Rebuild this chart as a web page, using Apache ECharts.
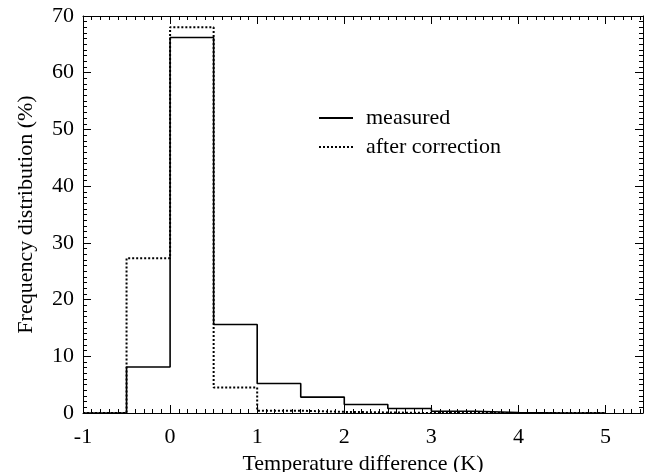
<!DOCTYPE html>
<html>
<head>
<meta charset="utf-8">
<script src="https://cdn.jsdelivr.net/npm/echarts@6/dist/echarts.min.js"></script>
<style>html,body{margin:0;padding:0;background:#fff}#c{width:649px;height:472px}</style>
</head>
<body>
<div id="c"></div>
<script>
// bin edges (K)
var binEdges = [-1, -0.5, 0, 0.5, 1, 1.5, 2, 2.5, 3, 3.5, 4, 4.5, 5];
// frequency (%) per bin
var measured = [0, 8.1, 66.2, 15.6, 5.2, 2.8, 1.5, 0.8, 0.3, 0.1, 0, 0];
var afterCorrection = [0, 27.3, 68.0, 4.5, 0.4, 0.2, 0.1, 0, 0, 0, 0, 0];
var xTicks = [-1, 0, 1, 2, 3, 4, 5];
var yTicks = [0, 10, 20, 30, 40, 50, 60, 70];

function stepData(vals) {
  var d = [];
  for (var i = 0; i < vals.length; i++) d.push([binEdges[i], vals[i]]);
  d.push([binEdges[vals.length], vals[vals.length - 1]]);
  return d;
}

var FONT = '"Liberation Serif", "Times New Roman", serif';
var FS = 22;
var chart = echarts.init(document.getElementById('c'));
function axisCommon() {
  return {
    axisLine: { show: true, onZero: false, lineStyle: { color: '#000', width: 1 } },
    axisTick: { show: true, inside: true, length: 8, lineStyle: { color: '#000' } },
    minorTick: { show: true, splitNumber: 10, length: 4, lineStyle: { color: '#000' } },
    splitLine: { show: false }
  };
}
chart.setOption({
  animation: false,
  backgroundColor: '#fff',
  grid: { left: 83, right: 6, top: 16, bottom: 59, containLabel: false, outerBoundsMode: 'none' },
  legend: {
    orient: 'vertical', left: 313, top: 102, itemWidth: 34, itemHeight: 14, itemGap: 7,
    itemStyle: { opacity: 0 },
    textStyle: { fontFamily: FONT, fontSize: FS, color: '#000', padding: [0, 0, 0, 8] },
    data: ['measured', 'after correction']
  },
  xAxis: [
    Object.assign(axisCommon(), {
      type: 'value', min: xTicks[0], max: 5.43, interval: 1, position: 'bottom',
      name: 'Temperature difference (K)', nameLocation: 'middle', nameGap: 36,
      nameTextStyle: { fontFamily: FONT, fontSize: FS, color: '#000' },
      axisLabel: { fontFamily: FONT, fontSize: FS, color: '#000', margin: 13, showMaxLabel: false,
        formatter: function (v) { return xTicks.indexOf(v) >= 0 ? String(v) : ''; } }
    }),
    Object.assign(axisCommon(), {
      type: 'value', min: xTicks[0], max: 5.43, interval: 1, position: 'top',
      axisLabel: { show: false }
    })
  ],
  yAxis: [
    Object.assign(axisCommon(), {
      type: 'value', min: yTicks[0], max: yTicks[yTicks.length - 1], interval: 10, position: 'left',
      name: 'Frequency distribution (%)', nameLocation: 'middle', nameGap: 46,
      nameTextStyle: { fontFamily: FONT, fontSize: FS, color: '#000' },
      axisLabel: { fontFamily: FONT, fontSize: FS, color: '#000', margin: 9 }
    }),
    Object.assign(axisCommon(), {
      type: 'value', min: yTicks[0], max: yTicks[yTicks.length - 1], interval: 10, position: 'right',
      axisLabel: { show: false }
    })
  ],
  series: [
    {
      name: 'measured', type: 'line', step: 'end', symbol: 'none',
      data: stepData(measured),
      lineStyle: { color: '#000', width: 1.6, type: 'solid' },
      itemStyle: { color: '#000' }
    },
    {
      name: 'after correction', type: 'line', step: 'end', symbol: 'none',
      data: stepData(afterCorrection),
      lineStyle: { color: '#000', width: 2, type: [2, 2] },
      itemStyle: { color: '#000' }
    }
  ]
});
</script>
</body>
</html>
